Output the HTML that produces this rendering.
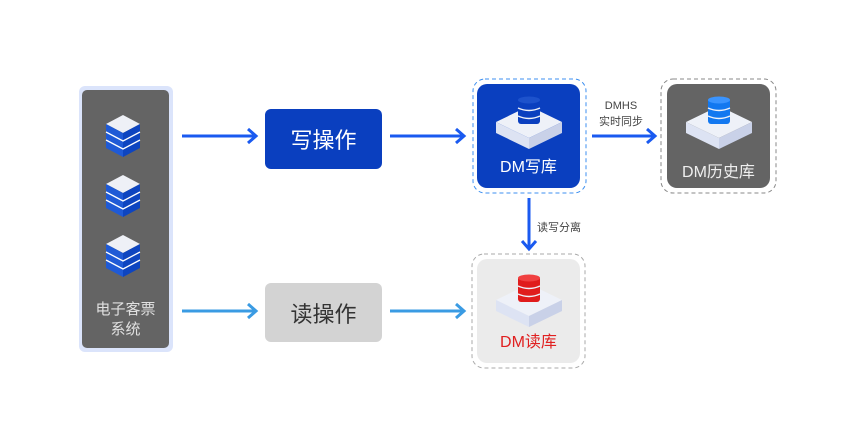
<!DOCTYPE html>
<html><head><meta charset="utf-8"><style>
body{margin:0;width:861px;height:427px;background:#fff;position:relative;overflow:hidden;font-family:"Liberation Sans","Noto Sans CJK SC",sans-serif}
.a{position:absolute}
.c{display:flex;align-items:center;justify-content:center}
</style></head><body>
<svg class="a" style="left:0;top:0" width="861" height="427">
<defs>
<g id="slab">
<polygon points="35,10 68,26 35,42 2,26" fill="#eef1f8"/>
<polygon points="2,26 35,42 35,53 2,37" fill="#dde3f3"/>
<polygon points="68,26 35,42 35,53 68,37" fill="#c9d1e8"/>
</g>
<g id="cube">
<polygon points="17,0 34,9 17,18 0,9" fill="#eef0f6"/>
<polygon points="0,9 17,18 17,42 0,33" fill="#1f5ad6"/>
<polygon points="34,9 17,18 17,42 34,33" fill="#0e45c0"/>
<polyline points="0,17 17,26 34,17" fill="none" stroke="#fff" stroke-width="1.3"/>
<polyline points="0,25 17,34 34,25" fill="none" stroke="#fff" stroke-width="1.3"/>
</g>
</defs>
<!-- left panel -->
<rect x="79" y="86" width="94" height="266" rx="6" fill="#dbe4fb"/>
<rect x="82" y="90" width="87" height="258" rx="5" fill="#646464"/>
<use href="#cube" x="106" y="115"/>
<use href="#cube" x="106" y="175"/>
<use href="#cube" x="106" y="235"/>
<!-- arrows -->
<g stroke="#1a5af0" stroke-width="3" fill="none">
<line x1="182" y1="136" x2="256" y2="136"/><polyline points="248,129 256,136 248,143"/>
<line x1="390" y1="136" x2="464" y2="136"/><polyline points="456,129 464,136 456,143"/>
<line x1="592" y1="136" x2="655" y2="136"/><polyline points="647,129 655,136 647,143"/>
<line x1="529" y1="198" x2="529" y2="249"/><polyline points="522,241 529,249 536,241"/>
</g>
<g stroke="#3a9be3" stroke-width="3" fill="none">
<line x1="182" y1="311" x2="256" y2="311"/><polyline points="248,304 256,311 248,318"/>
<line x1="390" y1="311" x2="464" y2="311"/><polyline points="456,304 464,311 456,318"/>
</g>
<!-- dashed frames -->
<rect x="473" y="79" width="113" height="114" rx="12" fill="none" stroke="#3c8ff0" stroke-dasharray="4,3"/>
<rect x="661" y="79" width="115" height="114" rx="12" fill="none" stroke="#888" stroke-dasharray="4,3"/>
<rect x="472" y="254" width="113" height="114" rx="12" fill="none" stroke="#aaa" stroke-dasharray="4,3"/>
<rect x="477" y="84" width="103" height="104" rx="10" fill="#0a3fbf"/>
<rect x="667" y="84" width="103" height="104" rx="10" fill="#646464"/>
<rect x="477" y="259" width="103" height="104" rx="10" fill="#ebebeb"/>
<!-- slabs + cylinders -->
<g transform="translate(494,96)"><use href="#slab"/>
<g fill="#0a3fbf"><rect x="24" y="2" width="22" height="26" rx="3"/></g>
<ellipse cx="35" cy="4" rx="11" ry="3.5" fill="#1d52cc"/>
<g stroke="#eef1f8" stroke-width="1.5" fill="none"><path d="M24,12 Q35,17 46,12"/><path d="M24,20 Q35,25 46,20"/></g></g>
<g transform="translate(684,96)"><use href="#slab"/>
<rect x="24" y="2" width="22" height="26" rx="3" fill="#1278f0"/>
<ellipse cx="35" cy="4" rx="11" ry="3.5" fill="#3a94ff"/>
<g stroke="#eef1f8" stroke-width="1.5" fill="none"><path d="M24,12 Q35,17 46,12"/><path d="M24,20 Q35,25 46,20"/></g></g>
<g transform="translate(494,274)"><use href="#slab"/>
<rect x="24" y="2" width="22" height="26" rx="3" fill="#e01c1c"/>
<ellipse cx="35" cy="4" rx="11" ry="3.5" fill="#f04040"/>
<g stroke="#eef1f8" stroke-width="1.5" fill="none"><path d="M24,12 Q35,17 46,12"/><path d="M24,20 Q35,25 46,20"/></g></g>
</svg>
<div class="a c" style="left:82px;top:300px;width:87px;height:40px;color:#e0e0e0;font-size:15px;line-height:20px;text-align:center">电子客票<br>系统</div>
<div class="a c" style="left:265px;top:109px;width:117px;height:60px;background:#0a3fbf;border-radius:6px;color:#fff;font-size:22px">写操作</div>
<div class="a c" style="left:265px;top:283px;width:117px;height:59px;background:#d3d3d3;border-radius:6px;color:#333;font-size:22px">读操作</div>
<div class="a c" style="left:477px;top:153px;width:103px;height:24px;color:#fff;font-size:16px">DM写库</div>
<div class="a c" style="left:667px;top:158px;width:103px;height:24px;color:#eee;font-size:16px">DM历史库</div>
<div class="a c" style="left:477px;top:328px;width:103px;height:24px;color:#e02020;font-size:16px">DM读库</div>
<div class="a" style="left:590px;top:98px;width:62px;text-align:center;color:#444;font-size:11px;line-height:16px">DMHS<br>实时同步</div>
<div class="a" style="left:537px;top:219px;color:#444;font-size:11px">读写分离</div>
</body></html>
